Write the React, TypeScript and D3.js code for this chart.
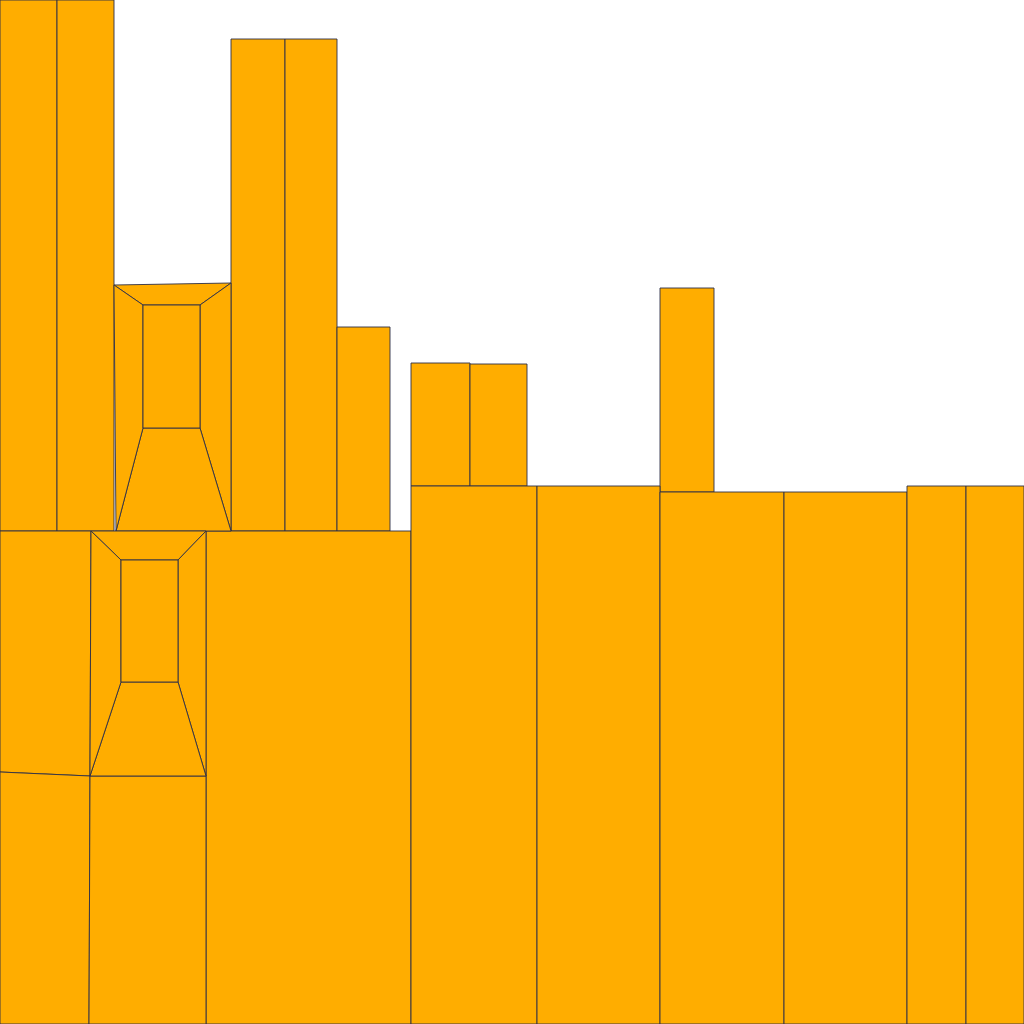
import { useEffect, useRef } from 'react'
import * as d3 from 'd3'

// plain upright blocks: [left, right, top, bottom]
const towers: [number, number, number, number][] = [
  [0, 57, 0, 531],
  [57, 114, 0, 531],
  [231, 285, 39, 531],
  [285, 337, 39, 531],
  [337, 390, 327, 531],
  [411, 470, 363, 486],
  [470, 527, 364, 486],
  [660, 714, 288, 492],
  [206, 411, 531, 1024],
  [411, 537, 486, 1024],
  [537, 660, 486, 1024],
  [660, 784, 492, 1024],
  [784, 907, 492, 1024],
  [907, 966, 486, 1024],
  [966, 1024, 486, 1024],
]

// slanted blocks, corner points in order
const quads: [number, number][][] = [
  [[0, 531], [91, 531], [90, 776], [0, 772]],
  [[0, 772], [90, 776], [89, 1024], [0, 1024]],
  [[90, 776], [206, 776], [206, 1024], [89, 1024]],
]

// framed boxes: outer corners (tl, tr, br, bl) and inner rectangle [left, right, top, bottom]
const frames = [
  { outer: [[114, 285], [231, 283], [231, 531], [116, 531]], inner: [143, 200, 305, 428] },
  { outer: [[91, 531], [206, 531], [206, 776], [90, 776]], inner: [121, 178, 560, 682] },
]

const W = 1024
const H = 1024

export default function App() {
  const svgRef = useRef<SVGSVGElement>(null)

  useEffect(() => {
    const x = d3.scaleLinear().domain([0, 1024]).range([0, W])
    const y = d3.scaleLinear().domain([0, 1024]).range([0, H])

    const polys: [number, number][][] = []
    towers.forEach(([l, r, t, b]) => polys.push([[l, t], [r, t], [r, b], [l, b]]))
    quads.forEach((q) => polys.push(q))
    frames.forEach(({ outer, inner }) => {
      const [l, r, t, b] = inner
      const it: [number, number][] = [[l, t], [r, t], [r, b], [l, b]]
      const o = outer as [number, number][]
      // four trapezoids around the inner box, then the box itself
      for (let i = 0; i < 4; i++) {
        const j = (i + 1) % 4
        polys.push([o[i], o[j], it[j], it[i]])
      }
      polys.push(it)
    })

    const line = d3.line<[number, number]>()
      .x((d) => x(d[0]))
      .y((d) => y(d[1]))
      .curve(d3.curveLinearClosed)

    const svg = d3.select(svgRef.current)
    svg.selectAll('*').remove()

    svg.append('rect').attr('width', W).attr('height', H).attr('fill', '#ffffff')

    svg.selectAll('.poly')
      .data(polys)
      .join('path')
      .attr('class', 'poly')
      .attr('d', (d) => line(d))
      .attr('fill', '#ffad00')
      .attr('stroke', '#2e3047')
      .attr('stroke-width', 0.9)
      .attr('stroke-linejoin', 'miter')
  }, [])

  return (
    <svg
      ref={svgRef}
      width={W}
      height={H}
      style={{ position: 'absolute', left: 0, top: 0, display: 'block' }}
    />
  )
}
